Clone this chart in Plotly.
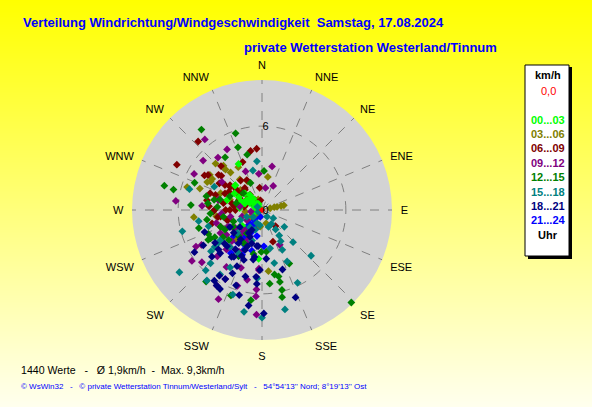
import base64
import struct
import zlib
import plotly.graph_objects as go

# Wind direction (deg, clockwise from N) and speed (km/h) per 3-hour block
dir_00_03 = [312, 333, 184, 292, 300, 304, 290, 275, 323, 319, 286, 315, 256, 301, 231,
             313, 299, 292, 291, 306, 309, 306, 312, 233, 331, 314, 321, 323]
spd_00_03 = [2.6, 3.7, 3.5, 0.6, 1.0, 1.3, 1.4, 1.6, 0.6, 1.1, 2.6, 0.1, 0.5, 2.3, 1.8,
             2.6, 1.9, 1.6, 1.3, 1.2, 0.95, 0.6, 0.35, 2.0, 0.5, 1.7, 1.4, 1.0]

dir_03_06 = [287, 264, 315, 289, 320, 331, 299, 333, 10, 174, 163, 78, 77, 78, 78, 78, 288, 292, 313,
             262, 240, 186, 220, 318, 304, 297, 302, 319, 235, 264, 340, 324]
spd_03_06 = [5.6, 4.9, 4.7, 4.7, 3.5, 3.5, 4.2, 2.3, 2.4, 4.4, 1.0, 0.6, 0.9, 1.1, 1.4, 1.6, 2.4, 3.2, 2.1,
             3.3, 1.0, 1.2, 2.8, 3.9, 4.5, 4.4, 4.2, 4.2, 0.6, 1.2, 0.8, 2.7]

dir_06_09 = [355, 349, 317, 298, 317, 301, 333, 354, 140, 161, 338, 310, 309, 320, 304, 299, 280, 283, 304,
             298, 277, 304, 280, 270, 304, 322, 320, 268, 274, 261, 254, 351, 280, 288, 306, 324, 248,
             303, 309, 302, 288, 270, 255, 294, 282, 293, 309, 322, 314, 303, 325, 270, 270, 254, 261,
             302, 288, 308, 308]
spd_06_09 = [4.4, 4.3, 6.7, 6.9, 4.3, 4.8, 2.4, 1.6, 1.5, 2.4, 3.7, 3.8, 2.4, 1.9, 3.2, 2.7, 4.0, 3.2, 1.3,
             1.8, 2.0, 0.9, 1.3, 2.3, 2.1, 1.4, 0.9, 3.5, 3.8, 3.0, 2.6, 0.7, 2.8, 3.5, 2.8, 2.6, 3.2,
             4.6, 4.0, 3.6, 3.9, 3.4, 3.7, 2.9, 2.2, 1.8, 1.9, 2.0, 1.4, 0.9, 0.9, 1.9, 2.6, 2.5, 3.2,
             0.5, 1.2, 2.3, 2.9]

dir_09_12 = [321, 330, 320, 310, 13, 298, 276, 305, 355, 337, 9, 25, 234, 229, 241, 206, 183, 184, 192, 198,
             240, 211, 208, 200, 183, 153, 184, 183, 236, 235, 221, 241, 224, 209, 212, 224, 236, 262, 258,
             279, 274, 265, 244, 254, 234, 221, 205, 283, 222, 220, 252]
spd_09_12 = [6.5, 5.0, 4.9, 5.5, 3.2, 5.5, 6.2, 3.5, 2.6, 3.0, 1.6, 1.9, 6.2, 5.7, 5.4, 7.1, 7.5, 5.7, 5.1, 5.7,
             5.0, 6.3, 5.6, 4.4, 4.3, 2.8, 6.2, 4.2, 2.3, 3.1, 2.2, 3.4, 3.1, 3.4, 4.8, 4.6, 1.3, 0.8, 2.3,
             1.6, 4.3, 2.9, 2.7, 3.4, 2.4, 3.5, 2.35, 3.2, 3.8, 1.9, 1.5]

dir_12_15 = [323, 341, 339, 284, 283, 274, 325, 3, 345, 136, 167, 166, 166, 166, 153, 187, 218, 181, 241, 254,
             174, 169, 174, 292, 337, 246, 200, 241, 260, 293, 284, 274, 285, 312, 260, 240, 213, 191, 207,
             284, 277, 266, 282, 248, 235, 228, 222, 209, 242, 240, 248]
spd_12_15 = [7.2, 5.8, 4.8, 7.2, 6.5, 5.1, 4.6, 2.8, 4.1, 9.2, 6.4, 5.9, 5.3, 4.9, 4.3, 6.5, 6.5, 3.0, 4.4, 4.7,
             5.3, 4.7, 3.0, 5.2, 2.1, 4.2, 6.5, 4.2, 4.0, 2.5, 3.1, 3.2, 1.9, 1.8, 2.8, 2.4, 2.0, 3.2, 3.7,
             4.1, 3.9, 3.7, 3.5, 3.2, 3.4, 3.2, 2.5, 2.7, 3.0, 3.9, 2.2]

dir_15_18 = [354, 347, 233, 223, 260, 255, 224, 133, 136, 167, 167, 154, 180, 190, 199, 218, 143, 146, 145,
             146, 149, 153, 127, 286, 126, 154, 168, 213, 231, 209, 184, 296, 231, 246, 245, 215, 201, 227,
             234, 221, 198, 304, 243, 253, 232, 209, 233, 199, 188, 159]
spd_15_18 = [3.5, 2.9, 7.4, 5.9, 4.6, 5.9, 5.3, 4.8, 3.2, 3.9, 7.3, 5.8, 7.7, 7.4, 6.4, 6.4, 0.6, 1.2, 1.7,
             2.2, 2.6, 3.2, 2.0, 5.4, 1.0, 4.1, 2.8, 5.5, 4.7, 4.7, 4.9, 3.8, 0.8, 1.2, 1.7, 1.5, 1.0, 2.4,
             3.7, 3.5, 2.3, 0.4, 0.3, 4.0, 4.3, 3.5, 3.9, 1.5, 1.1, 1.3]

dir_18_21 = [238, 239, 211, 208, 195, 188, 179, 159, 161, 185, 175, 205, 208, 214, 199, 213, 194, 184, 231,
             216, 202, 224, 211, 200, 190, 224, 204, 204, 188, 242, 232, 207, 249, 235, 182,
             228, 213, 215, 203, 197, 189, 210, 228, 214, 204, 186, 227]
spd_18_21 = [5.7, 4.9, 6.3, 6.4, 6.3, 6.9, 7.4, 6.7, 4.5, 4.8, 3.5, 5.0, 5.6, 6.1, 5.7, 5.6, 4.9, 5.3, 2.6,
             2.6, 2.8, 3.6, 3.9, 3.8, 3.6, 4.3, 4.4, 2.1, 2.6, 2.6, 2.0, 1.6, 4.4, 4.1, 4.3,
             4.2, 4.0, 2.9, 3.1, 2.5, 3.4, 1.9, 3.6, 3.4, 3.6, 2.6, 4.9]

dir_21_24 = [217, 220, 221, 222, 223, 221, 204, 205, 205, 206, 191, 191, 218, 214, 216, 204, 194, 194, 227, 177,
             208, 206, 208, 207, 205, 207, 213, 232, 199, 212]
spd_21_24 = [0.6, 0.9, 1.3, 1.6, 1.9, 2.4, 1.2, 1.7, 2.2, 2.8, 1.2, 1.9, 2.9, 3.4, 3.8, 3.5, 3.0, 0.5, 2.8, 2.6,
             1.1, 1.6, 2.0, 2.7, 3.2, 3.7, 0.5, 0.8, 1.4, 2.3]

# calm readings (0,0 km/h)
dir_calm = [0]
spd_calm = [0.0]

groups = [
    ("00...03", "#00FF00", dir_00_03, spd_00_03),
    ("03...06", "#808000", dir_03_06, spd_03_06),
    ("06...09", "#800000", dir_06_09, spd_06_09),
    ("09...12", "#800080", dir_09_12, spd_09_12),
    ("12...15", "#008000", dir_12_15, spd_12_15),
    ("15...18", "#008080", dir_15_18, spd_15_18),
    ("18...21", "#000080", dir_18_21, spd_18_21),
    ("21...24", "#0000FF", dir_21_24, spd_21_24),
]
# drawing order: blue streaks underneath, bright green just above the maroon block
draw_order = [7, 1, 2, 0, 3, 4, 5, 6]

compass = ["N", "NNE", "NE", "ENE", "E", "ESE", "SE", "SSE",
           "S", "SSW", "SW", "WSW", "W", "WNW", "NW", "NNW"]
compass_deg = [i * 22.5 for i in range(16)]
speed_max = 9.3

W, H = 592, 407


def gradient_png(h):
    # 1 px wide vertical gradient, yellow at top fading to pale yellow
    raw = b""
    for i in range(h):
        t = i / (h - 1)
        raw += b"\x00" + bytes([255, 255, int(round(238 * t))])

    def chunk(tag, data):
        c = struct.pack(">I", len(data)) + tag + data
        return c + struct.pack(">I", zlib.crc32(tag + data) & 0xFFFFFFFF)

    png = (b"\x89PNG\r\n\x1a\n"
           + chunk(b"IHDR", struct.pack(">IIBBBBB", 1, h, 8, 2, 0, 0, 0))
           + chunk(b"IDAT", zlib.compress(raw))
           + chunk(b"IEND", b""))
    return "data:image/png;base64," + base64.b64encode(png).decode()


fig = go.Figure()

for i in draw_order:
    name, color, d, s = groups[i]
    fig.add_trace(go.Scatterpolar(
        theta=d, r=s, mode="markers", name=name,
        marker=dict(symbol="diamond", size=6, color=color, line=dict(width=0)),
        hoverinfo="skip",
    ))

fig.add_trace(go.Scatterpolar(
    theta=dir_calm, r=spd_calm, mode="markers", name="0,0",
    marker=dict(symbol="diamond", size=5, color="#FF0000"),
    hoverinfo="skip",
))

# polar circle: centre (262, 210) px, radius 130 px
cx, cy, rad = 262, 210, 130
fig.update_layout(
    width=W, height=H,
    margin=dict(l=0, r=0, t=0, b=0),
    paper_bgcolor="#FFFF80",
    showlegend=False,
    font=dict(family="Liberation Sans, Arial, sans-serif", size=11, color="black"),
    polar=dict(
        domain=dict(x=[(cx - rad) / W, (cx + rad) / W],
                    y=[(H - cy - rad) / H, (H - cy + rad) / H]),
        bgcolor="#D3D3D3",
        angularaxis=dict(
            rotation=90, direction="clockwise",
            tickmode="array", tickvals=compass_deg, ticktext=compass,
            showline=False,
            ticks="outside", ticklen=6, tickcolor="rgba(0,0,0,0)",  # invisible ticks push labels out
            gridcolor="#808080", griddash="dash", gridwidth=1,
            tickfont=dict(size=11, color="black"),
        ),
        radialaxis=dict(
            range=[0, speed_max], angle=90,
            tickmode="array", tickvals=[0, 6], ticktext=["0", "6"],
            showline=False, ticks="",
            gridcolor="#808080", griddash="dash", gridwidth=1,
            tickfont=dict(size=11, color="black"),
            tickangle=90,
        ),
    ),
    images=[dict(source=gradient_png(H), xref="paper", yref="paper",
                 x=0, y=1, sizex=1, sizey=1, sizing="stretch",
                 xanchor="left", yanchor="top", layer="below")],
)


def px(x):
    return x / W


def py(y):
    return 1 - y / H


def label(text, x, y, color="black", size=11, bold=False, xanchor="center"):
    if bold:
        text = "<b>" + text + "</b>"
    fig.add_annotation(text=text, x=px(x), y=py(y), xref="paper", yref="paper",
                       xanchor=xanchor, yanchor="middle", showarrow=False,
                       font=dict(size=size, color=color))


# titles
label("Verteilung Windrichtung/Windgeschwindigkeit  Samstag, 17.08.2024", 21, 22,
      color="#0000FF", size=13, bold=True, xanchor="left")
label("private Wetterstation Westerland/Tinnum", 242, 48,
      color="#0000FF", size=13, bold=True, xanchor="left")

# footer
label("1440 Werte   -   Ø 1,9km/h  -  Max. 9,3km/h", 19, 370, size=10.6, xanchor="left")
label("© WsWin32   -   © private Wetterstation Tinnum/Westerland/Sylt   -   54°54'13'' Nord; 8°19'13'' Ost",
      19, 386, color="#0000FF", size=8, xanchor="left")

# legend box with shadow
fig.add_shape(type="rect", xref="paper", yref="paper",
              x0=px(528), x1=px(572), y0=py(259), y1=py(67),
              fillcolor="black", line=dict(width=0))
fig.add_shape(type="rect", xref="paper", yref="paper",
              x0=px(525), x1=px(569), y0=py(256), y1=py(65),
              fillcolor="white", line=dict(color="black", width=1))

label("km/h", 548, 75, bold=True)
label("0,0", 548, 91, color="#FF0000")
legend_y = [120, 134, 148, 163, 177, 192, 206, 220]
for (name, color, d, s), y in zip(groups, legend_y):
    label(name, 548, y, color=color, size=11, bold=True)
label("Uhr", 548, 235, bold=True)

html_file = "out.html"
fig.write_html(html_file, config={"displayModeBar": False})

# drop the default page margin so the figure sits at the window corner
with open(html_file, "r", encoding="utf-8") as f:
    html = f.read()
html = html.replace("<head>", "<head><style>body{margin:0;overflow:hidden}</style>", 1)
with open(html_file, "w", encoding="utf-8") as f:
    f.write(html)
